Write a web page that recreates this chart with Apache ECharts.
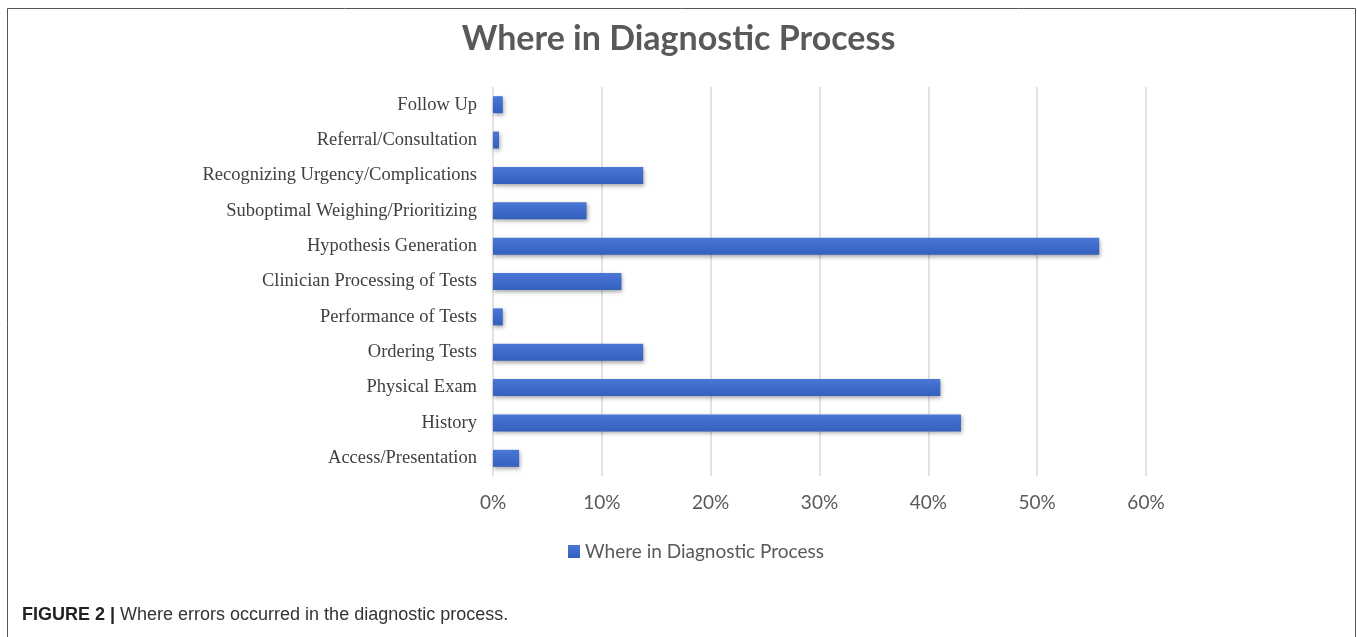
<!DOCTYPE html>
<html>
<head>
<meta charset="utf-8">
<title>Where in Diagnostic Process</title>
<script src="https://cdn.jsdelivr.net/npm/echarts@6/dist/echarts.min.js"></script>
<style>
    html, body { margin: 0; padding: 0; background: #fff; }
    #chart { width: 1357px; height: 637px; }
</style>
</head>
<body>
<div id="chart"></div>
<script>
// categories, bottom to top (as the axis draws them)
const categories = [
    'Access/Presentation',
    'History',
    'Physical Exam',
    'Ordering Tests',
    'Performance of Tests',
    'Clinician Processing of Tests',
    'Hypothesis Generation',
    'Suboptimal Weighing/Prioritizing',
    'Recognizing Urgency/Complications',
    'Referral/Consultation',
    'Follow Up'
]
// percent of cases
const values = [2.4, 43.0, 41.1, 13.8, 0.9, 11.8, 55.7, 8.6, 13.8, 0.55, 0.9]
const seriesName = 'Where in Diagnostic Process'
const xTicks = [0, 10, 20, 30, 40, 50, 60]

const chart = echarts.init(document.getElementById('chart'))

chart.setOption({
    animation: false,
    title: {
        text: seriesName,
        left: 'center',
        top: 17,
        textStyle: {
            fontFamily: 'Lato',
            fontWeight: 'bold',
            fontSize: 34,
            color: '#595959'
        }
    },
    grid: {
        left: 493,
        right: 211,
        top: 87,
        bottom: 161,
        containLabel: false
    },
    legend: {
        data: [seriesName],
        left: 563,
        top: 537,
        icon: 'rect',
        itemWidth: 12,
        itemHeight: 13,
        itemGap: 6,
        textStyle: {
            fontFamily: 'Lato',
            fontSize: 19,
            color: '#595959'
        }
    },
    xAxis: {
        type: 'value',
        min: xTicks[0],
        max: xTicks[xTicks.length - 1],
        interval: 10,
        axisLine: { show: false },
        axisTick: { show: false },
        axisLabel: {
            formatter: '{value}%',
            margin: 17,
            fontFamily: 'Lato',
            fontSize: 19,
            color: '#595959'
        },
        splitLine: {
            lineStyle: { color: '#d9d9d9', width: 1.5 }
        }
    },
    yAxis: {
        type: 'category',
        data: categories,
        axisLine: { show: false },
        axisTick: { show: false },
        axisLabel: {
            margin: 16,
            padding: [3, 0, 0, 0],
            fontFamily: 'Liberation Serif',
            fontSize: 18.5,
            color: '#404040'
        }
    },
    series: [
        {
            name: seriesName,
            type: 'bar',
            data: values,
            barWidth: 17,
            itemStyle: {
                color: new echarts.graphic.LinearGradient(0, 0, 0, 1, [
                    { offset: 0, color: '#4b78d4' },
                    { offset: 0.5, color: '#3e6bcc' },
                    { offset: 1, color: '#3460bd' }
                ]),
                shadowColor: 'rgba(0,0,0,0.35)',
                shadowBlur: 4,
                shadowOffsetX: 1,
                shadowOffsetY: 2
            }
        }
    ],
    color: ['#3f6bcb'],
    graphic: [
        {
            type: 'rect',
            shape: { x: 7.5, y: 8.5, width: 1348, height: 650 },
            style: { fill: 'none', stroke: '#555', lineWidth: 1 }
        },
        {
            type: 'text',
            left: 22,
            top: 606,
            style: {
                text: '{b|FIGURE 2 |} Where errors occurred in the diagnostic process.',
                rich: {
                    b: {
                        fontFamily: 'Liberation Sans',
                        fontWeight: 'bold',
                        fontSize: 18,
                        fill: '#222'
                    }
                },
                fontFamily: 'Liberation Sans',
                fontSize: 18,
                fill: '#333'
            }
        }
    ]
})
</script>
</body>
</html>
